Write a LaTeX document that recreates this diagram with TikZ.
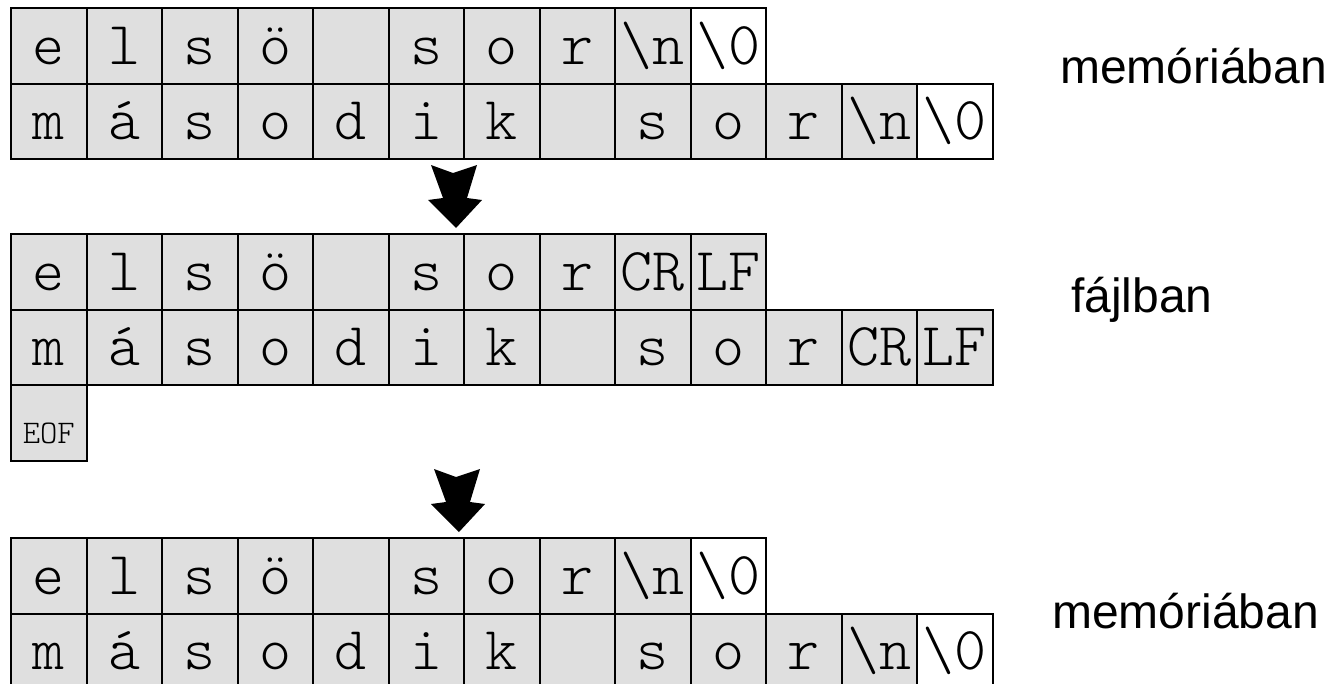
\documentclass[tikz,border=0pt]{standalone}
\usepackage{fontspec}
\setmainfont{Liberation Sans}
\newfontfamily\cellfont{Latin Modern Mono Light}
\definecolor{cellgray}{RGB}{223,223,223}
\tikzset{
  charcell/.style={draw, line width=2pt, fill=cellgray, minimum width=75.5pt,
    minimum height=75.5pt, inner sep=0pt, anchor=north west,
    font=\cellfont\fontsize{61}{61}\selectfont, text height=40pt, text depth=3.5pt},
  endcell/.style={charcell, fill=white},
  eofcell/.style={charcell, font=\cellfont\fontsize{33}{33}\selectfont,
    text height=42pt, text depth=1.5pt},
  sidetext/.style={font=\fontsize{48}{48}\selectfont, anchor=base west, inner sep=0pt},
  downarrow/.pic={
    \fill[black] (-25,-63) -- (-3,-55) -- (21,-63) -- (11,-30) -- (26,-28)
      -- (0,0) -- (-28,-28) -- (-13,-30) -- cycle;
  },
}
% one row of character cells: name, top edge, list of text/style pairs
\newcommand\charrow[3]{%
  \foreach \t/\s [count=\i from 0] in {#3} {
    \node[\s] (#1-\i) at ({10+75.5*\i},#2) {\t};
  }%
}
\begin{document}
\begin{tikzpicture}[x=1pt,y=-1pt]
  \useasboundingbox (0,0) rectangle (1332,683);

  % strings in memory
  \charrow{ma}{7}{e/charcell, l/charcell, s/charcell, ö/charcell, {}/charcell,
    s/charcell, o/charcell, r/charcell, \textbackslash n/charcell, \textbackslash 0/endcell}
  \charrow{mb}{82.5}{m/charcell, á/charcell, s/charcell, o/charcell, d/charcell,
    i/charcell, k/charcell, {}/charcell, s/charcell, o/charcell, r/charcell,
    \textbackslash n/charcell, \textbackslash 0/endcell}
  \node[sidetext] (mem1) at (1060,83) {memóriában};

  \pic at (456,228) {downarrow};

  % the same text in the file
  \charrow{fa}{233}{e/charcell, l/charcell, s/charcell, ö/charcell, {}/charcell,
    s/charcell, o/charcell, r/charcell, CR/charcell, LF/charcell}
  \charrow{fb}{308.5}{m/charcell, á/charcell, s/charcell, o/charcell, d/charcell,
    i/charcell, k/charcell, {}/charcell, s/charcell, o/charcell, r/charcell,
    CR/charcell, LF/charcell}
  \node[eofcell] (eof) at (10,384) {EOF};
  \node[sidetext] (fajl) at (1071,312) {fájlban};

  \pic at (459,532) {downarrow};

  % read back into memory
  \charrow{ra}{537}{e/charcell, l/charcell, s/charcell, ö/charcell, {}/charcell,
    s/charcell, o/charcell, r/charcell, \textbackslash n/charcell, \textbackslash 0/endcell}
  \charrow{rb}{612.5}{m/charcell, á/charcell, s/charcell, o/charcell, d/charcell,
    i/charcell, k/charcell, {}/charcell, s/charcell, o/charcell, r/charcell,
    \textbackslash n/charcell, \textbackslash 0/endcell}
  \node[sidetext] (mem2) at (1052,628) {memóriában};
\end{tikzpicture}
\end{document}
